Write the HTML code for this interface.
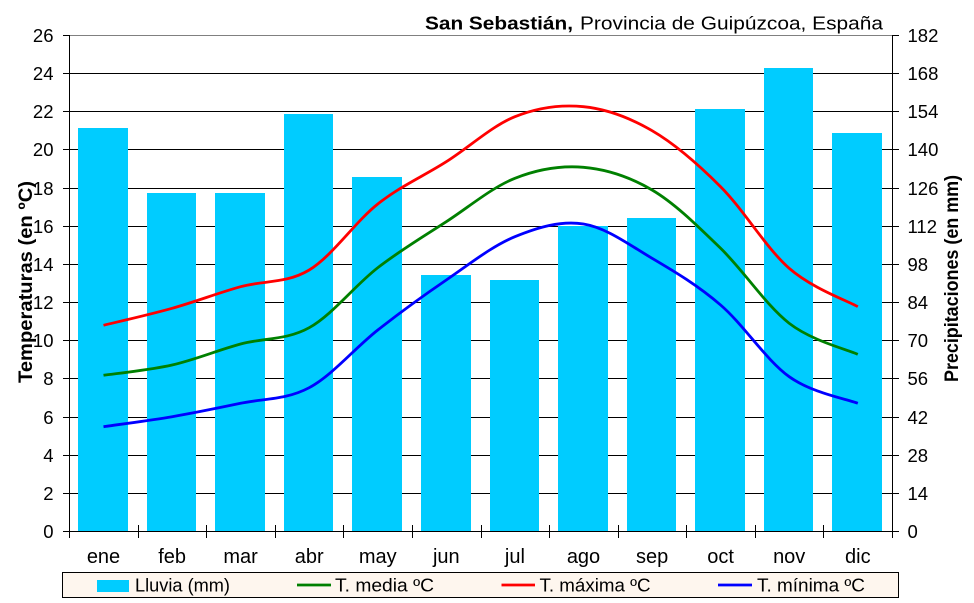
<!DOCTYPE html>
<html>
<head>
<meta charset="utf-8">
<style>
  html, body { margin:0; padding:0; background:#fff; }
  svg { display:block; }
  text { font-family: "Liberation Sans", Arial, sans-serif; fill:#000; }
</style>
</head>
<body>
<svg width="974" height="603" viewBox="0 0 974 603" xmlns="http://www.w3.org/2000/svg">
  <rect x="0" y="0" width="974" height="603" fill="#ffffff"/>

  <!-- gridlines -->
  <g stroke="#000" stroke-width="1" shape-rendering="crispEdges">
    <line x1="69" y1="73.5" x2="893" y2="73.5"/>
    <line x1="69" y1="111.5" x2="893" y2="111.5"/>
    <line x1="69" y1="149.5" x2="893" y2="149.5"/>
    <line x1="69" y1="188.5" x2="893" y2="188.5"/>
    <line x1="69" y1="226.5" x2="893" y2="226.5"/>
    <line x1="69" y1="264.5" x2="893" y2="264.5"/>
    <line x1="69" y1="302.5" x2="893" y2="302.5"/>
    <line x1="69" y1="340.5" x2="893" y2="340.5"/>
    <line x1="69" y1="378.5" x2="893" y2="378.5"/>
    <line x1="69" y1="417.5" x2="893" y2="417.5"/>
    <line x1="69" y1="455.5" x2="893" y2="455.5"/>
    <line x1="69" y1="493.5" x2="893" y2="493.5"/>
  </g>
  <line x1="69" y1="35.5" x2="893" y2="35.5" stroke="#808080" stroke-width="1" shape-rendering="crispEdges"/>

  <!-- bars -->
  <g fill="#00CCFF" shape-rendering="crispEdges">
    <rect x="78" y="128" width="50" height="403"/>
    <rect x="147" y="193" width="49" height="338"/>
    <rect x="215" y="193" width="50" height="338"/>
    <rect x="284" y="114" width="49" height="417"/>
    <rect x="352" y="177" width="50" height="354"/>
    <rect x="421" y="275" width="50" height="256"/>
    <rect x="490" y="280" width="49" height="251"/>
    <rect x="558" y="226" width="50" height="305"/>
    <rect x="627" y="218" width="49" height="313"/>
    <rect x="695" y="109" width="50" height="422"/>
    <rect x="764" y="68" width="49" height="463"/>
    <rect x="832" y="133" width="50" height="398"/>
  </g>

  <!-- axes -->
  <g stroke="#000" stroke-width="1" shape-rendering="crispEdges">
    <line x1="69.5" y1="35" x2="69.5" y2="538"/>
    <line x1="892.5" y1="35" x2="892.5" y2="538"/>
    <line x1="69" y1="531.5" x2="893" y2="531.5"/>
    <!-- left ticks -->
    <line x1="63" y1="35.5" x2="69" y2="35.5"/>
    <line x1="63" y1="73.5" x2="69" y2="73.5"/>
    <line x1="63" y1="111.5" x2="69" y2="111.5"/>
    <line x1="63" y1="149.5" x2="69" y2="149.5"/>
    <line x1="63" y1="188.5" x2="69" y2="188.5"/>
    <line x1="63" y1="226.5" x2="69" y2="226.5"/>
    <line x1="63" y1="264.5" x2="69" y2="264.5"/>
    <line x1="63" y1="302.5" x2="69" y2="302.5"/>
    <line x1="63" y1="340.5" x2="69" y2="340.5"/>
    <line x1="63" y1="378.5" x2="69" y2="378.5"/>
    <line x1="63" y1="417.5" x2="69" y2="417.5"/>
    <line x1="63" y1="455.5" x2="69" y2="455.5"/>
    <line x1="63" y1="493.5" x2="69" y2="493.5"/>
    <line x1="63" y1="531.5" x2="69" y2="531.5"/>
    <!-- right ticks -->
    <line x1="893" y1="35.5" x2="899" y2="35.5"/>
    <line x1="893" y1="73.5" x2="899" y2="73.5"/>
    <line x1="893" y1="111.5" x2="899" y2="111.5"/>
    <line x1="893" y1="149.5" x2="899" y2="149.5"/>
    <line x1="893" y1="188.5" x2="899" y2="188.5"/>
    <line x1="893" y1="226.5" x2="899" y2="226.5"/>
    <line x1="893" y1="264.5" x2="899" y2="264.5"/>
    <line x1="893" y1="302.5" x2="899" y2="302.5"/>
    <line x1="893" y1="340.5" x2="899" y2="340.5"/>
    <line x1="893" y1="378.5" x2="899" y2="378.5"/>
    <line x1="893" y1="417.5" x2="899" y2="417.5"/>
    <line x1="893" y1="455.5" x2="899" y2="455.5"/>
    <line x1="893" y1="493.5" x2="899" y2="493.5"/>
    <line x1="893" y1="531.5" x2="899" y2="531.5"/>
    <!-- category ticks -->
    <line x1="138.5" y1="525" x2="138.5" y2="538"/>
    <line x1="206.5" y1="525" x2="206.5" y2="538"/>
    <line x1="275.5" y1="525" x2="275.5" y2="538"/>
    <line x1="343.5" y1="525" x2="343.5" y2="538"/>
    <line x1="412.5" y1="525" x2="412.5" y2="538"/>
    <line x1="481.5" y1="525" x2="481.5" y2="538"/>
    <line x1="549.5" y1="525" x2="549.5" y2="538"/>
    <line x1="618.5" y1="525" x2="618.5" y2="538"/>
    <line x1="686.5" y1="525" x2="686.5" y2="538"/>
    <line x1="755.5" y1="525" x2="755.5" y2="538"/>
    <line x1="823.5" y1="525" x2="823.5" y2="538"/>
  </g>

  <!-- series lines -->
  <g fill="none" stroke-width="2.8" stroke-linejoin="round" stroke-linecap="butt">
    <path stroke="#0000FF" d="M103.5,426.7 C114.9,425 149.2,420.6 172.1,416.7 C195,412.8 217.7,408.1 240.6,403.3 C263.5,398.5 286.3,399.9 309.2,387.7 C332.1,375.5 354.9,348 377.8,330 C400.7,312 423.4,295.6 446.3,280 C469.2,264.4 492,246 514.9,236.7 C537.8,227.4 560.6,220.4 583.5,224 C606.4,227.6 629.2,244.8 652.1,258.3 C675,271.8 697.7,285.3 720.6,305 C743.5,324.7 766.3,360.3 789.2,376.7 C812.1,393.1 846.4,398.9 857.8,403.3"/>
    <path stroke="#008000" d="M103.5,375.3 C114.9,373.6 149.2,370.2 172.1,365 C195,359.8 217.7,350.2 240.6,344 C263.5,337.8 286.3,340.4 309.2,327.7 C332.1,315 354.9,285.4 377.8,267.7 C400.7,250 423.4,236.6 446.3,221.7 C469.2,206.8 492,187.4 514.9,178.3 C537.8,169.2 560.6,165.4 583.5,167.3 C606.4,169.3 629.2,176.5 652.1,190 C675,203.5 697.7,226.1 720.6,248.3 C743.5,270.5 766.3,305.6 789.2,323.3 C812.1,341 846.4,349.1 857.8,354.3"/>
    <path stroke="#FF0000" d="M103.5,325.3 C114.9,322.5 149.2,314.7 172.1,308.3 C195,301.9 217.7,293.1 240.6,286.7 C263.5,280.3 286.3,283.8 309.2,270 C332.1,256.2 354.9,222.1 377.8,204 C400.7,185.9 423.4,176.3 446.3,161.7 C469.2,147.2 492,125.9 514.9,116.7 C537.8,107.5 560.6,104.4 583.5,106.7 C606.4,109 629.2,117.4 652.1,130.7 C675,144 697.7,163.8 720.6,186.7 C743.5,209.6 766.3,248.3 789.2,268.3 C812.1,288.3 846.4,300.3 857.8,306.7"/>
  </g>

  <!-- left tick labels -->
  <g font-size="18.5" text-anchor="end">
    <text x="53.5" y="42">26</text>
    <text x="53.5" y="80">24</text>
    <text x="53.5" y="118">22</text>
    <text x="53.5" y="156">20</text>
    <text x="53.5" y="195">18</text>
    <text x="53.5" y="233">16</text>
    <text x="53.5" y="271">14</text>
    <text x="53.5" y="309">12</text>
    <text x="53.5" y="347">10</text>
    <text x="53.5" y="385">8</text>
    <text x="53.5" y="424">6</text>
    <text x="53.5" y="462">4</text>
    <text x="53.5" y="500">2</text>
    <text x="53.5" y="538">0</text>
  </g>
  <!-- right tick labels -->
  <g font-size="18.5" text-anchor="start">
    <text x="907.5" y="42">182</text>
    <text x="907.5" y="80">168</text>
    <text x="907.5" y="118">154</text>
    <text x="907.5" y="156">140</text>
    <text x="907.5" y="195">126</text>
    <text x="907.5" y="233">112</text>
    <text x="907.5" y="271">98</text>
    <text x="907.5" y="309">84</text>
    <text x="907.5" y="347">70</text>
    <text x="907.5" y="385">56</text>
    <text x="907.5" y="424">42</text>
    <text x="907.5" y="462">28</text>
    <text x="907.5" y="500">14</text>
    <text x="907.5" y="538">0</text>
  </g>

  <!-- month labels -->
  <g font-size="20" text-anchor="middle">
    <text x="103.5" y="563">ene</text>
    <text x="172.1" y="563">feb</text>
    <text x="240.6" y="563">mar</text>
    <text x="309.2" y="563">abr</text>
    <text x="377.8" y="563">may</text>
    <text x="446.3" y="563">jun</text>
    <text x="514.9" y="563">jul</text>
    <text x="583.5" y="563">ago</text>
    <text x="652.1" y="563">sep</text>
    <text x="720.6" y="563">oct</text>
    <text x="789.2" y="563">nov</text>
    <text x="857.8" y="563">dic</text>
  </g>

  <!-- axis titles -->
  <text transform="translate(32,282) rotate(-90)" font-size="19" font-weight="bold" text-anchor="middle" textLength="202" lengthAdjust="spacingAndGlyphs">Temperaturas (en ºC)</text>
  <text transform="translate(958,278.5) rotate(-90)" font-size="19" font-weight="bold" text-anchor="middle" textLength="207" lengthAdjust="spacingAndGlyphs">Precipitaciones (en mm)</text>

  <!-- chart title -->
  <text x="425" y="29.5" font-size="18" font-weight="bold" textLength="148" lengthAdjust="spacingAndGlyphs">San Sebastián,</text>
  <text x="580" y="29.5" font-size="18" textLength="303" lengthAdjust="spacingAndGlyphs">Provincia de Guipúzcoa, España</text>

  <!-- legend -->
  <rect x="62.5" y="572.5" width="836" height="25" fill="#FEF6EE" stroke="#000" stroke-width="1" shape-rendering="crispEdges"/>
  <rect x="97" y="580" width="32" height="12" fill="#00CCFF" shape-rendering="crispEdges"/>
  <text x="135" y="591.5" font-size="18" textLength="95" lengthAdjust="spacingAndGlyphs">Lluvia (mm)</text>
  <line x1="297" y1="585" x2="331" y2="585" stroke="#008000" stroke-width="2.8"/>
  <text x="335" y="591.5" font-size="18" textLength="99" lengthAdjust="spacingAndGlyphs">T. media ºC</text>
  <line x1="501.5" y1="585" x2="535" y2="585" stroke="#FF0000" stroke-width="2.8"/>
  <text x="539.5" y="591.5" font-size="18" textLength="111" lengthAdjust="spacingAndGlyphs">T. máxima ºC</text>
  <line x1="718" y1="585" x2="752" y2="585" stroke="#0000FF" stroke-width="2.8"/>
  <text x="757" y="591.5" font-size="18" textLength="108" lengthAdjust="spacingAndGlyphs">T. mínima ºC</text>
</svg>
</body>
</html>
